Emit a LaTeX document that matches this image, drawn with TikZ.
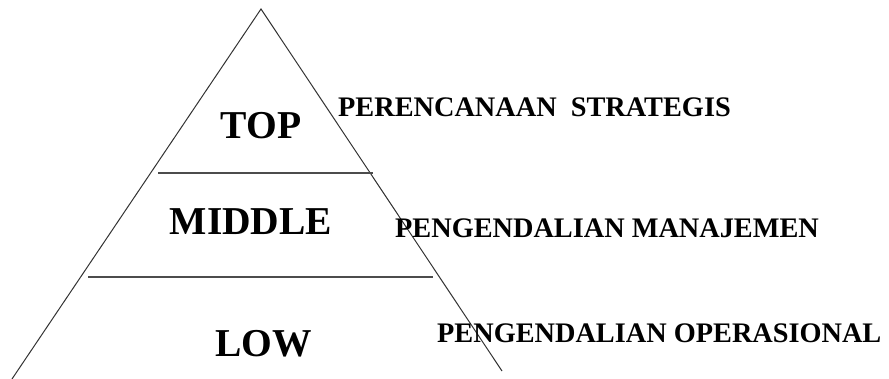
\documentclass[tikz,border=0pt]{standalone}
\usepackage{fontspec}
\setmainfont{Liberation Serif}
\begin{document}
\begin{tikzpicture}[x=1pt,y=-1pt,
  edge/.style={draw=black!80,line width=1pt},
  levelline/.style={draw=black!70,line width=1.1pt},
  leveltext/.style={font=\fontsize{39.5}{42}\selectfont\bfseries,anchor=base,inner sep=0pt},
  roletext/.style={font=\fontsize{28.3}{30}\selectfont\bfseries,anchor=base west,inner sep=0pt}]
\useasboundingbox (0,0) rectangle (889,379);
\coordinate (apex) at (261,9);
\coordinate (bl) at (12,379);
\coordinate (br) at (502,371);
\coordinate (l1a) at (158,173);
\coordinate (l1b) at (373,173);
\coordinate (l2a) at (88,277);
\coordinate (l2b) at (433,277);
\draw[edge] (bl) -- (apex) -- (br);
\draw[levelline] (l1a) -- (l1b);
\draw[levelline] (l2a) -- (l2b);
\node[leveltext] (top) at (261,139) {TOP};
\node[leveltext] (middle) at (251,235) {MIDDLE};
\node[leveltext] (low) at (263.5,356) {LOW};
\node[roletext] (r1) at (338,117) {PERENCANAAN\ \ STRATEGIS};
\node[roletext] (r2) at (395,238) {PENGENDALIAN MANAJEMEN};
\node[roletext] (r3) at (437,342) {PENGENDALIAN OPERASIONAL};
\end{tikzpicture}
\end{document}
